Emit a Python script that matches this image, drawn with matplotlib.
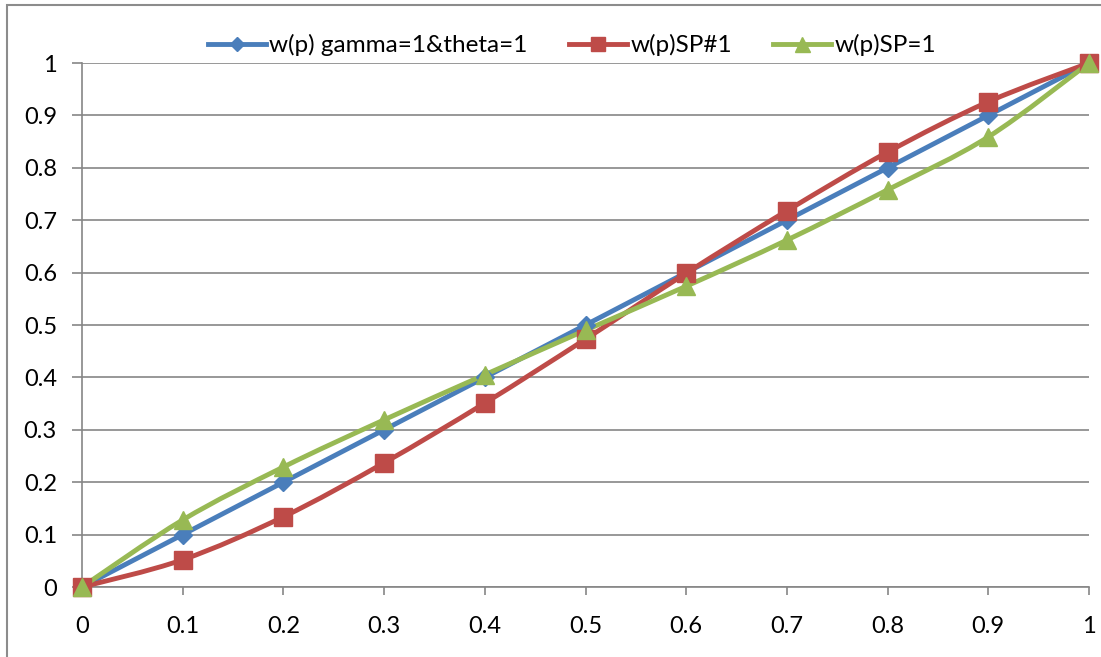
import matplotlib
matplotlib.use("Agg")
import matplotlib.pyplot as plt
import numpy as np
from matplotlib.path import Path
from matplotlib.patches import PathPatch, Rectangle
from matplotlib.lines import Line2D

# --- data ---
p = [0, 0.1, 0.2, 0.3, 0.4, 0.5, 0.6, 0.7, 0.8, 0.9, 1.0]
w_gamma_theta = [0, 0.1, 0.2, 0.3, 0.4, 0.5, 0.6, 0.7, 0.8, 0.9, 1.0]
w_sp_neq1 = [0, 0.052, 0.134, 0.237, 0.351, 0.473, 0.599, 0.718, 0.830, 0.926, 1.0]
w_sp_eq1 = [0, 0.128, 0.229, 0.319, 0.405, 0.490, 0.574, 0.662, 0.758, 0.859, 1.0]
labels = ['w(p) gamma=1&theta=1', 'w(p)SP#1', 'w(p)SP=1']
ticks = [0, 0.1, 0.2, 0.3, 0.4, 0.5, 0.6, 0.7, 0.8, 0.9, 1]
tick_text = ['0', '0.1', '0.2', '0.3', '0.4', '0.5', '0.6', '0.7', '0.8', '0.9', '1']

colors = ['#4A7EBB', '#BE4B48', '#98B954']
markers = ['D', 's', '^']
msizes = [9, 12.5, 13.5]

plt.rcParams['font.family'] = ['Lato', 'DejaVu Sans']


def smooth_path(xs, ys):
    # Excel-style smoothed line: cubic Bezier through the points
    pts = np.column_stack([xs, ys])
    ext = np.vstack([pts[0], pts, pts[-1]])
    verts = [tuple(pts[0])]
    codes = [Path.MOVETO]
    for i in range(len(pts) - 1):
        p0, p1, p2, p3 = ext[i], ext[i + 1], ext[i + 2], ext[i + 3]
        c1 = p1 + (p2 - p0) / 6.0
        c2 = p2 - (p3 - p1) / 6.0
        verts += [tuple(c1), tuple(c2), tuple(p2)]
        codes += [Path.CURVE4] * 3
    return Path(verts, codes)


fig = plt.figure(figsize=(11.01, 6.57), dpi=100)
ax = fig.add_axes([82 / 1101, 70 / 657, 1007 / 1101, 524 / 657])

series = [w_gamma_theta, w_sp_neq1, w_sp_eq1]
for ys, c, m, ms in zip(series, colors, markers, msizes):
    ax.add_patch(PathPatch(smooth_path(p, ys), facecolor='none', edgecolor=c,
                           lw=3.5, zorder=3, clip_on=False, capstyle='round'))
    ax.plot(p, ys, linestyle='none', marker=m, markersize=ms, color=c,
            markeredgecolor=c, zorder=4, clip_on=False)

ax.set_xlim(0, 1)
ax.set_ylim(0, 1)
ax.set_xticks(ticks)
ax.set_xticklabels(tick_text)
ax.set_yticks(ticks)
ax.set_yticklabels(tick_text)
ax.yaxis.grid(True, color='#868686', lw=1.2)
ax.set_axisbelow(True)
for s in ['top', 'right']:
    ax.spines[s].set_visible(False)
for s in ['left', 'bottom']:
    ax.spines[s].set_color('#868686')
    ax.spines[s].set_linewidth(1.2)
ax.tick_params(axis='y', length=7, width=1.2, color='#868686', pad=11,
               labelsize=17, labelcolor='black')
ax.tick_params(axis='x', length=6, width=1.2, color='#868686', pad=15,
               labelsize=17, labelcolor='black')

handles = [Line2D([], [], color=c, lw=3.5, marker=m, markersize=ms * 0.8,
                  markeredgecolor=c) for c, m, ms in zip(colors, markers, msizes)]
fig.legend(handles, labels, loc='center', bbox_to_anchor=(572 / 1101, 1 - 45 / 657),
           ncol=3, frameon=False, fontsize=17.5, handlelength=2.4,
           handletextpad=0.12, columnspacing=1.7)

# outer chart border
fig.patches.append(Rectangle((7 / 1101, -0.05), 1.2, 1 - 5 / 657 + 0.05,
                             transform=fig.transFigure, fill=False,
                             edgecolor='#8C8C8C', lw=1.5))

fig.savefig('out.png', dpi=100)
